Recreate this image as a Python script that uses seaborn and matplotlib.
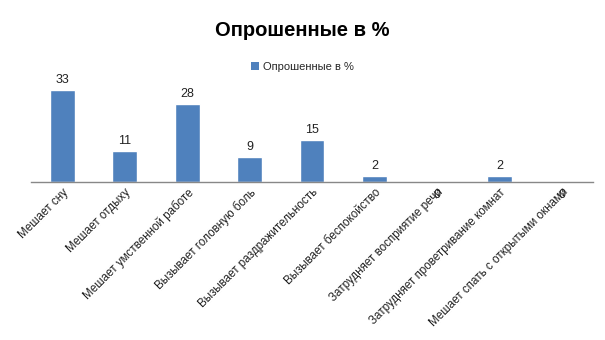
import matplotlib
matplotlib.use("Agg")
import matplotlib.pyplot as plt
import seaborn as sns
import pandas as pd
from matplotlib.patches import Patch

categories = [
    "Мешает сну",
    "Мешает отдыху",
    "Мешает умственной работе",
    "Вызывает головную боль",
    "Вызывает раздражительность",
    "Вызывает беспокойство",
    "Затрудняет восприятие речи",
    "Затрудняет проветривание комнат",
    "Мешает спать с открытыми окнами",
]
values = [33, 11, 28, 9, 15, 2, 0, 2, 0]
series_name = "Опрошенные в %"

bar_color = "#4F81BD"

sns.set_theme(style="white")
plt.rcParams["font.family"] = ["Liberation Sans", "DejaVu Sans"]

df = pd.DataFrame({"cat": categories, "val": values})

fig = plt.figure(figsize=(6.05, 3.4), dpi=100)
ax = fig.add_axes([31 / 605, 1 - 182 / 340, 562 / 605, 102 / 340])

sns.barplot(data=df, x="cat", y="val", color=bar_color, width=0.4,
            saturation=1, ax=ax)

ax.set_ylim(0, 36.5)
ax.set_xlim(-0.5, len(categories) - 0.5)
ax.set_xlabel("")
ax.set_ylabel("")
ax.set_yticks([])
for side in ("top", "right", "left"):
    ax.spines[side].set_visible(False)
ax.spines["bottom"].set_color("#888888")
ax.spines["bottom"].set_linewidth(1.0)
ax.tick_params(axis="x", length=0, pad=3)
ax.set_xticks(range(len(categories)))
ax.set_xticklabels(categories, rotation=45, ha="right", rotation_mode="anchor",
                   fontsize=8.4, color="#222222")

for i, v in enumerate(values):
    off = 3 if v > 0 else -14
    ax.annotate(str(v), (i, v), xytext=(0, off), textcoords="offset points",
                ha="center", va="bottom", fontsize=9, color="#222222")

fig.text(0.5, 1 - 30 / 340, "Опрошенные в %", ha="center", va="center",
         fontsize=14.5, fontweight="bold", color="#000000")
fig.legend(handles=[Patch(facecolor=bar_color, edgecolor="none", label=series_name)],
           loc="center", bbox_to_anchor=(0.5, 1 - 67 / 340), frameon=False,
           fontsize=8, handlelength=0.7, handleheight=0.7, handletextpad=0.4)

fig.savefig("out.png", dpi=100, facecolor="white")
